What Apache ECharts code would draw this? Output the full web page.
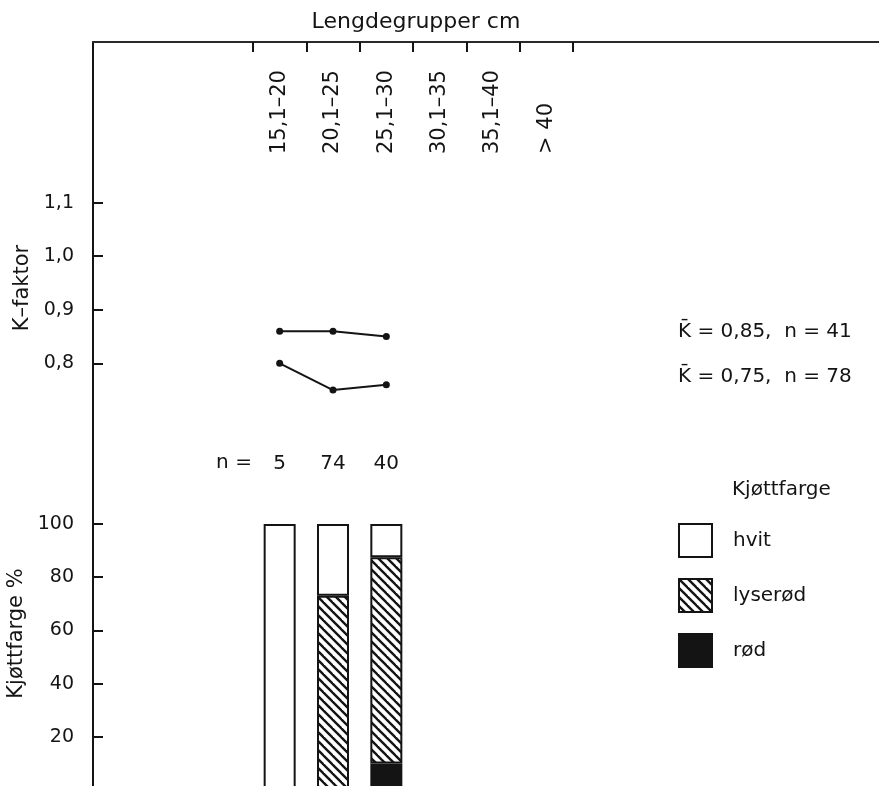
<!DOCTYPE html>
<html>
<head>
<meta charset="utf-8">
<script src="https://cdn.jsdelivr.net/npm/echarts@6/dist/echarts.min.js"></script>
<style>
  html, body { margin: 0; padding: 0; background: #ffffff; }
  #chart { width: 879px; height: 786px; }
</style>
</head>
<body>
<div id="chart"></div>
<script>
// Length groups (cm) along the top axis
const lengthGroups = ['15,1–20', '20,1–25', '25,1–30', '30,1–35', '35,1–40', '> 40'];
// Mean condition factor per length group
const kUpper = [0.86, 0.86, 0.85];
const kLower = [0.80, 0.75, 0.76];
const kTicks = [0.8, 0.9, 1.0, 1.1];
// Number of fish per length group
const nFish = [5, 74, 40];
// Flesh colour distribution (%) per length group
const rod = [0, 0, 10];
const lyserod = [0, 73, 77.5];
const hvit = [100, 27, 12.5];
const pctTicks = [20, 40, 60, 80, 100];
const kSummary = ['K\u0304 = 0,85,  n = 41', 'K\u0304 = 0,75,  n = 78'];

// Empty slots before and after the labelled groups so the axis spans the full width
const LEAD = 3, TRAIL = 6;
const axisData = [].concat(Array(LEAD).fill(''), lengthGroups, Array(TRAIL).fill(''));
const pad = arr => [].concat(Array(LEAD).fill(null), arr,
  Array(axisData.length - LEAD - arr.length).fill(null));

const FONT = 'DejaVu Sans';
const INK = '#141414';

// Diagonal hatching for the "lyserød" class
function hatch() {
  const s = 9;
  const c = document.createElement('canvas');
  c.width = s; c.height = s;
  const ctx = c.getContext('2d');
  ctx.fillStyle = '#ffffff';
  ctx.fillRect(0, 0, s, s);
  ctx.strokeStyle = INK;
  ctx.lineWidth = 2.4;
  for (let k = -1; k <= 1; k++) {
    ctx.beginPath();
    ctx.moveTo(-1 + k * s, -1);
    ctx.lineTo(s + 1 + k * s, s + 1);
    ctx.stroke();
  }
  return { image: c, repeat: 'repeat' };
}

const chart = echarts.init(document.getElementById('chart'));
const barBorder = { borderColor: INK, borderWidth: 2 };

chart.setOption({
  animation: false,
  backgroundColor: '#ffffff',
  textStyle: { fontFamily: FONT, color: INK },
  grid: [
    { left: 93, width: 800, top: 42, height: 482, outerBoundsMode: 'none', containLabel: false },
    { left: 93, width: 800, top: 524, height: 266, outerBoundsMode: 'none', containLabel: false }
  ],
  xAxis: [
    {
      gridIndex: 0, type: 'category', position: 'top', data: axisData, boundaryGap: true,
      axisLine: { show: true, lineStyle: { color: '#2a2a2a', width: 2 } },
      axisTick: {
        show: true, inside: true, length: 10,
        interval: i => i >= LEAD && i <= LEAD + lengthGroups.length,
        lineStyle: { color: INK, width: 2 }
      },
      axisLabel: {
        show: true, inside: true, rotate: -90, margin: 112, interval: 0,
        align: 'left', verticalAlign: 'middle',
        fontFamily: FONT, fontSize: 21, color: INK
      },
      splitLine: { show: false }
    },
    {
      gridIndex: 1, type: 'category', data: axisData, boundaryGap: true, show: false
    }
  ],
  yAxis: [
    {
      gridIndex: 0, type: 'value', min: 0.5, max: 1.4,
      name: 'K–faktor', nameLocation: 'middle', nameGap: 58,
      nameTextStyle: { fontFamily: FONT, fontSize: 21, color: INK, padding: [0, 10, 0, 0] },
      axisLine: { show: true, lineStyle: { color: INK, width: 2 } },
      axisTick: { show: true, inside: true, length: 10, customValues: kTicks, lineStyle: { color: INK, width: 2 } },
      axisLabel: {
        show: true, margin: 19, customValues: kTicks,
        formatter: v => v.toFixed(1).replace('.', ','),
        fontFamily: FONT, fontSize: 19, color: INK
      },
      splitLine: { show: false }
    },
    {
      gridIndex: 1, type: 'value', min: 0, max: 100,
      name: 'Kjøttfarge %', nameLocation: 'middle', nameGap: 58,
      nameTextStyle: { fontFamily: FONT, fontSize: 21, color: INK, padding: [0, 0, 0, 47] },
      axisLine: { show: true, lineStyle: { color: INK, width: 2 } },
      axisTick: { show: true, inside: true, length: 10, customValues: pctTicks, lineStyle: { color: INK, width: 2 } },
      axisLabel: {
        show: true, margin: 19, customValues: pctTicks,
        fontFamily: FONT, fontSize: 19, color: INK
      },
      splitLine: { show: false }
    }
  ],
  legend: {
    data: ['hvit', 'lyserød', 'rød'],
    orient: 'vertical', left: 678, top: 523, padding: 0,
    icon: 'rect', itemWidth: 33, itemHeight: 33, itemGap: 20,
    selectedMode: false,
    itemStyle: { borderColor: INK, borderWidth: 2 },
    textStyle: { fontFamily: FONT, fontSize: 20, color: INK, padding: [0, 0, 0, 16] }
  },
  series: [
    {
      name: 'K1', type: 'line', xAxisIndex: 0, yAxisIndex: 0, data: pad(kUpper),
      symbol: 'circle', symbolSize: 7, itemStyle: { color: INK },
      lineStyle: { color: INK, width: 2 }
    },
    {
      name: 'K2', type: 'line', xAxisIndex: 0, yAxisIndex: 0, data: pad(kLower),
      symbol: 'circle', symbolSize: 7, itemStyle: { color: INK },
      lineStyle: { color: INK, width: 2 }
    },
    {
      name: 'rød', type: 'bar', xAxisIndex: 1, yAxisIndex: 1, stack: 'farge', barWidth: 32,
      data: pad(rod), itemStyle: Object.assign({ color: INK }, barBorder)
    },
    {
      name: 'lyserød', type: 'bar', xAxisIndex: 1, yAxisIndex: 1, stack: 'farge', barWidth: 32,
      data: pad(lyserod), itemStyle: Object.assign({ color: hatch() }, barBorder)
    },
    {
      name: 'hvit', type: 'bar', xAxisIndex: 1, yAxisIndex: 1, stack: 'farge', barWidth: 32,
      data: pad(hvit), itemStyle: Object.assign({ color: '#ffffff' }, barBorder),
      label: {
        show: true, position: 'top', distance: 50,
        formatter: p => String(nFish[p.dataIndex - LEAD]),
        fontFamily: FONT, fontSize: 20, color: INK
      }
    }
  ],
  graphic: [
    { type: 'text', x: 416, y: 22, style: { text: 'Lengdegrupper cm', font: '22px "DejaVu Sans"', fill: INK, align: 'center', verticalAlign: 'middle' } },
    { type: 'text', x: 234, y: 463, style: { text: 'n =', font: '20px "DejaVu Sans"', fill: INK, align: 'center', verticalAlign: 'middle' } },
    { type: 'text', x: 732, y: 490, style: { text: 'Kjøttfarge', font: '20px "DejaVu Sans"', fill: INK, align: 'left', verticalAlign: 'middle' } },
    { type: 'text', x: 678, y: 332, style: { text: kSummary[0], font: '20px "DejaVu Sans"', fill: INK, align: 'left', verticalAlign: 'middle' } },
    { type: 'text', x: 678, y: 377, style: { text: kSummary[1], font: '20px "DejaVu Sans"', fill: INK, align: 'left', verticalAlign: 'middle' } }
  ]
});
</script>
</body>
</html>
